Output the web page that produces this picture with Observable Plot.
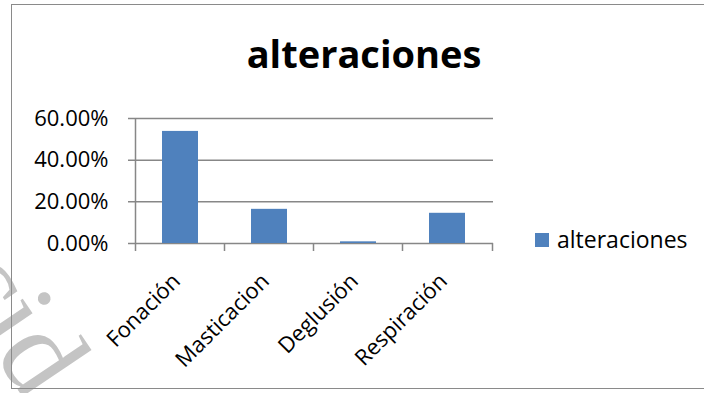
<!DOCTYPE html>
<html><head><meta charset="utf-8">
<script src="https://cdn.jsdelivr.net/npm/d3@7"></script>
<script src="https://cdn.jsdelivr.net/npm/@observablehq/plot@0.6"></script>
<style>
body{margin:0;background:#fff;}
#wrap{position:relative;width:704px;height:393px;overflow:hidden;font-family:"Open Sans",sans-serif;background:#fff;}
#wm{position:absolute;left:0;top:0;}
#border{position:absolute;left:11px;top:4px;width:760px;height:383px;border:1.5px solid #8a8a8a;}
#chart{position:absolute;left:0;top:0;}
#title{position:absolute;left:164px;width:400px;top:34px;line-height:1;text-align:center;font-weight:bold;font-size:38px;color:#000;}
#legend{position:absolute;left:535px;top:228px;line-height:1;font-size:23px;display:flex;align-items:center;color:#000;}
#legend .sw{width:14px;height:14px;background:#4F81BD;margin-right:8px;}
</style></head>
<body>
<div id="wrap">
  <svg id="wm" width="704" height="393"><text id="wmtext" x="0" y="0" font-family="Liberation Serif" font-size="120" fill="#c4c4c4"></text></svg>
  <div id="border"></div>
  <div id="chart"></div>
  <div id="title"></div>
  <div id="legend"><div class="sw"></div><span id="legtext"></span></div>
</div>
<script>
const chartTitle = "alteraciones";
const seriesName = "alteraciones";
const categories = ["Fonación", "Masticacion", "Deglusión", "Respiración"];
const values = [0.538, 0.164, 0.008, 0.145];
const yTicks = [0, 0.2, 0.4, 0.6];
const watermark = "cid";

const data = categories.map((c, i) => ({categoria: c, valor: values[i]}));
const gray = "#878787";

document.getElementById("title").textContent = chartTitle;
document.getElementById("legtext").textContent = seriesName;
const wm = document.getElementById("wmtext");
wm.textContent = watermark;
wm.setAttribute("transform", "translate(-55,282) rotate(56)");

const plot = Plot.plot({
  width: 704, height: 393,
  marginLeft: 134, marginRight: 211, marginTop: 118, marginBottom: 150,
  style: {fontFamily: "Open Sans", fontSize: "22px", background: "transparent", color: "#000", overflow: "visible"},
  x: {domain: categories, paddingInner: 0.6, paddingOuter: 0.3, axis: null, label: null},
  y: {domain: [0, 0.6], axis: null, label: null},
  marks: [
    Plot.gridY(yTicks, {stroke: gray, strokeOpacity: 1, strokeWidth: 1.5, insetLeft: -6}),
    Plot.ruleX([categories[0]], {dx: -45, stroke: gray, strokeWidth: 1.5}),
    Plot.axisX({tickSize: 8, tickFormat: () => "", label: null, dx: -45, stroke: gray, strokeWidth: 1.5, strokeOpacity: 1}),
    Plot.axisX([categories[categories.length - 1]], {tickSize: 8, tickFormat: () => "", label: null, dx: 45, stroke: gray, strokeWidth: 1.5, strokeOpacity: 1}),
    Plot.barY(data, {x: "categoria", y: "valor", fill: "#4F81BD"}),
    Plot.axisY(yTicks, {tickFormat: d3.format(".2%"), label: null, tickSize: 0, tickPadding: 26, fontSize: 22, fill: "#000"}),
    Plot.axisX({tickSize: 0, tickRotate: -45, tickPadding: 22, dx: -4, dy: 12, label: null, fontSize: 22, fill: "#000"})
  ]
});
document.getElementById("chart").appendChild(plot);
</script>
</body></html>
